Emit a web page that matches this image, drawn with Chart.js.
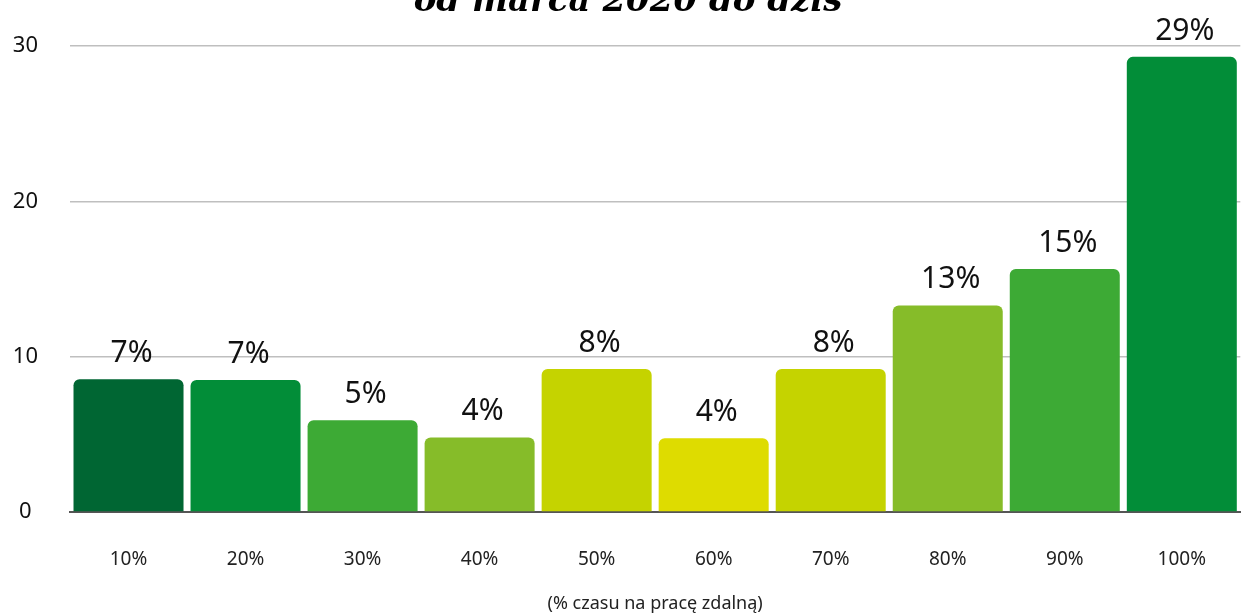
<!DOCTYPE html>
<html>
<head>
<meta charset="utf-8">
<script src="https://cdn.jsdelivr.net/npm/chart.js@4"></script>
<style>
  html, body { margin: 0; padding: 0; background: #fff; }
  #wrap { width: 1242px; height: 613px; position: relative; }
</style>
</head>
<body>
<div id="wrap"><canvas id="remote-chart"></canvas></div>
<script>
const categories = ['10%', '20%', '30%', '40%', '50%', '60%', '70%', '80%', '90%', '100%'];
const values = [8.55, 8.5, 5.9, 4.8, 9.2, 4.75, 9.2, 13.3, 15.65, 29.3];
const valueLabels = ['7%', '7%', '5%', '4%', '8%', '4%', '8%', '13%', '15%', '29%'];
const barColors = ['#006633', '#028d38', '#3daa35', '#86bc29', '#c5d300', '#dedc00', '#c5d300', '#86bc29', '#3daa35', '#028d38'];
const yTicks = [0, 10, 20, 30];

const FONT = '"Noto Sans", sans-serif';

// title is pushed partly above the canvas edge, only its lower half shows
const clippedTitle = {
    id: 'clippedTitle',
    afterDraw(chart) {
        const ctx = chart.ctx;
        ctx.save();
        ctx.fillStyle = '#000';
        ctx.font = 'italic bold 34px "DejaVu Serif", serif';
        ctx.textAlign = 'center';
        ctx.textBaseline = 'alphabetic';
        ctx.fillText('od marca 2020 do dziś', 628, 11);
        ctx.restore();
    }
};

// percentage labels above each bar
const barLabels = {
    id: 'barLabels',
    afterDatasetsDraw(chart) {
        const ctx = chart.ctx;
        const meta = chart.getDatasetMeta(0);
        ctx.save();
        ctx.fillStyle = '#111';
        ctx.font = '30px ' + FONT;
        ctx.textAlign = 'center';
        ctx.textBaseline = 'alphabetic';
        meta.data.forEach(function (bar, i) {
            ctx.fillText(valueLabels[i], bar.x + 3, bar.y - 17);
        });
        ctx.restore();
    }
};

const ctx = document.getElementById('remote-chart').getContext('2d');
new Chart(ctx, {
    type: 'bar',
    data: {
        labels: categories,
        datasets: [{
            data: values,
            backgroundColor: barColors,
            borderRadius: { topLeft: 6, topRight: 6 },
            borderSkipped: 'bottom',
            barPercentage: 0.94,
            categoryPercentage: 1
        }]
    },
    options: {
        responsive: true,
        maintainAspectRatio: false,
        animation: false,
        layout: { padding: { top: 46, right: -5, bottom: 0, left: 0 } },
        plugins: {
            legend: { display: false },
            tooltip: { enabled: false },
            title: { display: false }
        },
        scales: {
            x: {
                afterFit(axis) { axis.height = 101; },
                grid: { display: false, drawTicks: false },
                border: { display: true, color: '#555', width: 2 },
                ticks: { color: '#222', font: { family: FONT, size: 19 }, padding: 36 },
                title: {
                    display: true,
                    text: '(% czasu na pracę zdalną)',
                    color: '#222',
                    font: { family: FONT, size: 18 },
                    padding: { top: 0, bottom: -2 }
                }
            },
            y: {
                min: 0,
                max: 30,
                afterFit(axis) { axis.width = 70; },
                afterBuildTicks(axis) { axis.ticks = yTicks.map(v => ({ value: v })); },
                grid: { color: '#bfbfbf', lineWidth: 1.5, drawTicks: false },
                border: { display: false },
                ticks: {
                    color: '#111',
                    font: { family: FONT, size: 22 },
                    padding: 32,
                    crossAlign: 'center'
                }
            }
        }
    },
    plugins: [clippedTitle, barLabels]
});
</script>
</body>
</html>
